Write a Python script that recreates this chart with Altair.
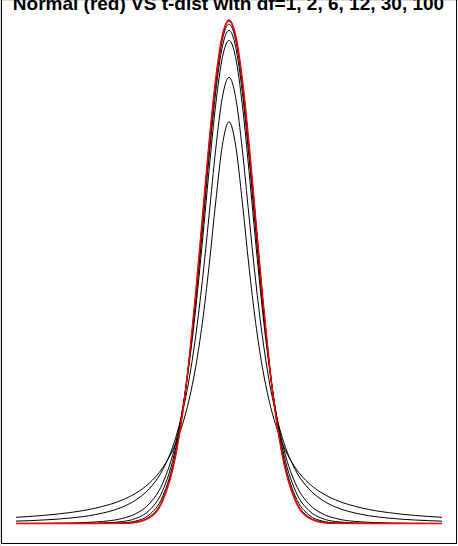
import altair as alt
import pandas as pd

X = [-8, -7, -6, -5, -4, -3.5, -3, -2.5, -2, -1.75, -1.5, -1.25, -1, -0.75, -0.5, -0.25, 0,
     0.25, 0.5, 0.75, 1, 1.25, 1.5, 1.75, 2, 2.5, 3, 3.5, 4, 5, 6, 7, 8]

normal = [0, 0, 0, 0, 0.00013, 0.00087, 0.00443, 0.01753, 0.05399, 0.08628, 0.12952, 0.18265,
          0.24197, 0.30114, 0.35207, 0.38667, 0.39894, 0.38667, 0.35207, 0.30114, 0.24197, 0.18265,
          0.12952, 0.08628, 0.05399, 0.01753, 0.00443, 0.00087, 0.00013, 0, 0, 0, 0]

t1 = [0.00490, 0.00637, 0.00860, 0.01224, 0.01872, 0.02402, 0.03183, 0.04391,
      0.06366, 0.07835, 0.09794, 0.12422, 0.15915, 0.20372, 0.25465, 0.29959, 0.31831, 0.29959,
      0.25465, 0.20372, 0.15915, 0.12422, 0.09794, 0.07835, 0.06366, 0.04391, 0.03183, 0.02402,
      0.01872, 0.01224, 0.00860, 0.00637, 0.00490]

t2 = [0.00187, 0.00275, 0.00427, 0.00713, 0.01309, 0.01859, 0.02741, 0.04220,
      0.06804, 0.08779, 0.11413, 0.14872, 0.19245, 0.24378, 0.29630, 0.33761, 0.35355, 0.33761,
      0.29630, 0.24378, 0.19245, 0.14872, 0.11413, 0.08779, 0.06804, 0.04220, 0.02741, 0.01859,
      0.01309, 0.00713, 0.00427, 0.00275, 0.00187]

t6 = [0.00007, 0.00016, 0.00042, 0.00122, 0.00405, 0.00780, 0.01549, 0.03148,
      0.06403, 0.09038, 0.12556, 0.17026, 0.22314, 0.27971, 0.33178, 0.36910, 0.38273, 0.36910,
      0.33178, 0.27971, 0.22314, 0.17026, 0.12556, 0.09038, 0.06403, 0.03148, 0.01549, 0.00780,
      0.00405, 0.00122, 0.00042, 0.00016, 0.00007]

t12 = [0, 0.00001, 0.00005, 0.00026, 0.00158, 0.00403, 0.01029, 0.02561,
       0.06022, 0.08918, 0.12787, 0.17634, 0.23222, 0.29012, 0.34171, 0.37775, 0.39072, 0.37775,
       0.34171, 0.29012, 0.23222, 0.17634, 0.12787, 0.08918, 0.06022, 0.02561, 0.01029, 0.00403,
       0.00158, 0.00026, 0.00005, 0.00001, 0]

t30 = [0, 0, 0, 0.00003, 0.00053, 0.00196, 0.00678, 0.02106,
       0.05685, 0.08764, 0.12896, 0.18011, 0.23799, 0.29667, 0.34788, 0.38307, 0.39563, 0.38307,
       0.34788, 0.29667, 0.23799, 0.18011, 0.12896, 0.08764, 0.05685, 0.02106, 0.00678, 0.00196,
       0.00053, 0.00003, 0, 0, 0]

t100 = [0, 0, 0, 0.00001, 0.00022, 0.00116, 0.00513, 0.01863,
        0.05491, 0.08675, 0.12937, 0.18189, 0.24076, 0.29979, 0.35080, 0.38559, 0.39795, 0.38559,
        0.35080, 0.29979, 0.24076, 0.18189, 0.12937, 0.08675, 0.05491, 0.01863, 0.00513, 0.00116,
        0.00022, 0.00001, 0, 0, 0]

TITLE = "Normal (red) VS t-dist with df=1, 2, 6, 12, 30, 100"

rows = []
for name, ys in [("df=1", t1), ("df=2", t2), ("df=6", t6), ("df=12", t12), ("df=30", t30), ("df=100", t100)]:
    for xv, yv in zip(X, ys):
        rows.append({"x": xv, "y": yv, "series": name})
tdf = pd.DataFrame(rows)
ndf = pd.DataFrame({"x": X, "y": normal})

xs = alt.Scale(domain=[-8, 8], range=[16, 442], nice=False, zero=False)
ys = alt.Scale(domain=[0, 0.39894], range=[523.5, 20], nice=False, zero=False)

tlines = alt.Chart(tdf).mark_line(color="black", strokeWidth=1, interpolate="monotone").encode(
    x=alt.X("x:Q", scale=xs, axis=None),
    y=alt.Y("y:Q", scale=ys, axis=None),
    detail="series:N",
)
nline = alt.Chart(ndf).mark_line(color="#ff0000", strokeWidth=1.5, interpolate="monotone").encode(
    x=alt.X("x:Q", scale=xs, axis=None),
    y=alt.Y("y:Q", scale=ys, axis=None),
)

border_src = pd.DataFrame({"k": [0]})
left = alt.Chart(border_src).mark_rule(color="black", strokeWidth=1).encode(
    x=alt.value(1.5), y=alt.value(0), y2=alt.value(543.5))
right = alt.Chart(border_src).mark_rule(color="black", strokeWidth=1).encode(
    x=alt.value(456.5), y=alt.value(0), y2=alt.value(543.5))
bottom = alt.Chart(border_src).mark_rule(color="black", strokeWidth=1).encode(
    y=alt.value(543.5), x=alt.value(1), x2=alt.value(457))

title = alt.Chart(pd.DataFrame({"t": [TITLE]})).mark_text(
    font="Liberation Sans", fontWeight="bold", fontSize=19, align="center",
    baseline="alphabetic", color="black").encode(
    x=alt.value(228.5), y=alt.value(10), text="t:N")

chart = alt.layer(tlines, nline, left, right, bottom, title).properties(
    width=458, height=546, padding=0, autosize=alt.AutoSizeParams(type="none")
).configure_view(stroke=None).configure(background="white")

chart.save("out.html", embed_options={"renderer": "svg", "actions": False})
